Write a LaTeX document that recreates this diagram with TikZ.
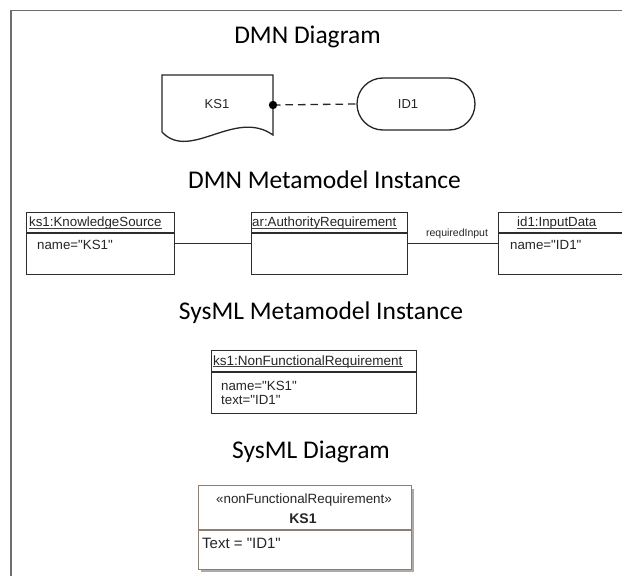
\documentclass[tikz,border=0pt]{standalone}
\usepackage{fontspec}
\defaultfontfeatures[\rmfamily,\sffamily]{}
\setmainfont{Liberation Sans}
\newfontfamily\titlefont{Carlito}
\definecolor{framegray}{RGB}{110,110,110}
\definecolor{linegray}{RGB}{45,45,45}
\definecolor{sysmlborder}{RGB}{140,128,115}
\definecolor{shadowgray}{RGB}{175,170,165}
\tikzset{
  heading/.style={font=\titlefont\fontsize{25.5}{30}\selectfont, inner sep=0pt, anchor=base},
  umlbox/.style={draw=linegray, line width=1.1pt, fill=white, inner sep=0pt, anchor=north west},
  umltext/.style={font=\fontsize{13.3}{15}\selectfont, inner sep=0pt, anchor=base west, text=black!85},
  uline/.style={draw=black!75, line width=0.8pt},
  dmnshape/.style={draw=black!85, line width=1.3pt},
  conn/.style={draw=linegray, line width=1pt},
}
\begin{document}
\begin{tikzpicture}[x=1pt,y=-1pt]
\useasboundingbox (0,0) rectangle (622,576);
\clip (0,0) rectangle (622,576);
\fill[white] (0,0) rectangle (622,576);

% outer frame (top and left edges)
\draw[framegray, line width=1.5pt] (11,576) -- (11,10.5) -- (623,10.5);

% section headings
\node[heading] (h1) at (307.5,43) {DMN Diagram};
\node[heading] (h2) at (324.5,188) {DMN Metamodel Instance};
\node[heading] (h3) at (321,319) {SysML Metamodel Instance};
\node[heading] (h4) at (311,458) {SysML Diagram};

% ---- DMN diagram: knowledge source and input data ----
\draw[dmnshape] (162,132) -- (162,75) -- (273,75) -- (273,135)
   .. controls (235,108) and (190,162) .. (162,132) -- cycle;
\node[inner sep=0pt, font=\fontsize{13}{15}\selectfont, text=black!85] (ks1) at (217,104) {KS1};
\coordinate (ksport) at (273,105);
\node[draw=black!85, line width=1.3pt, rounded corners=26pt, minimum width=118pt,
      minimum height=52pt, inner sep=0pt] (id1) at (416,104) {};
\node[inner sep=0pt, font=\fontsize{13}{15}\selectfont, text=black!85] (id1t) at (408,104) {ID1};
\draw[black!85, line width=1.3pt, dash pattern=on 7.5pt off 5pt] (ksport) -- (id1.west);
\fill[black] (ksport) circle (4.2pt);

% ---- DMN metamodel instance ----
\node[umlbox, minimum width=148pt, minimum height=62pt] (ksobj) at (26,212) {};
\draw[linegray, line width=1.1pt] ([yshift=-21pt]ksobj.north west) -- ([yshift=-21pt]ksobj.north east);
\node[umltext] (kst) at (29,226.5) {ks1:KnowledgeSource};
\draw[uline] ([yshift=-1.6pt]kst.base west) -- ([yshift=-1.6pt]kst.base east);
\node[umltext] (ksa) at (37,249) {name="KS1"};

\node[umlbox, minimum width=156pt, minimum height=62pt] (arobj) at (251,212) {};
\draw[linegray, line width=1.1pt] ([yshift=-21pt]arobj.north west) -- ([yshift=-21pt]arobj.north east);
\node[umltext] (art) at (252,226.5) {ar:AuthorityRequirement};
\draw[uline] ([yshift=-1.6pt]art.base west) -- ([yshift=-1.6pt]art.base east);

\node[umlbox, minimum width=135pt, minimum height=62pt] (idobj) at (498,212) {};
\draw[linegray, line width=1.1pt] ([yshift=-21pt]idobj.north west) -- ([yshift=-21pt]idobj.north east);
\node[umltext] (idt) at (517,226.5) {id1:InputData};
\draw[uline] ([yshift=-1.6pt]idt.base west) -- ([yshift=-1.6pt]idt.base east);
\node[umltext] (ida) at (510,249) {name="ID1"};

\draw[conn] (ksobj) -- (arobj);
\draw[conn] (arobj) -- node[above=4pt, inner sep=0pt, xshift=4pt,
   font=\fontsize{10.5}{12}\selectfont, text=black!85] (req) {requiredInput} (idobj);

% ---- SysML metamodel instance ----
\node[umlbox, minimum width=205pt, minimum height=63pt] (nfr) at (211,350) {};
\draw[linegray, line width=1.1pt] ([yshift=-22pt]nfr.north west) -- ([yshift=-22pt]nfr.north east);
\node[umltext, font=\fontsize{13.5}{15}\selectfont] (nfrt) at (213,365) {ks1:NonFunctionalRequirement};
\draw[uline] ([yshift=-1.6pt]nfrt.base west) -- ([yshift=-1.6pt]nfrt.base east);
\node[umltext] (nfra) at (221,390) {name="KS1"};
\node[umltext] (nfrb) at (221,404) {text="ID1"};

% ---- SysML diagram ----
\fill[shadowgray] (201,489) rectangle (414,572);
\node[draw=sysmlborder, line width=1.3pt, fill=white, minimum width=213pt, minimum height=84pt,
      inner sep=0pt, anchor=north west] (req1) at (198,485) {};
\draw[sysmlborder, line width=1.3pt] ([yshift=-45pt]req1.north west) -- ([yshift=-45pt]req1.north east);
\node[inner sep=0pt, anchor=base, font=\fontsize{13.4}{16}\selectfont, text=black!85] (st) at (304,503) {«nonFunctionalRequirement»};
\node[inner sep=0pt, anchor=base, font=\bfseries\fontsize{14}{16}\selectfont, text=black!85] (nm) at (303,523) {KS1};
\node[inner sep=0pt, anchor=base west, font=\fontsize{15}{18}\selectfont, text=black!85] (tx) at (202,548) {Text = "ID1"};
\end{tikzpicture}
\end{document}
